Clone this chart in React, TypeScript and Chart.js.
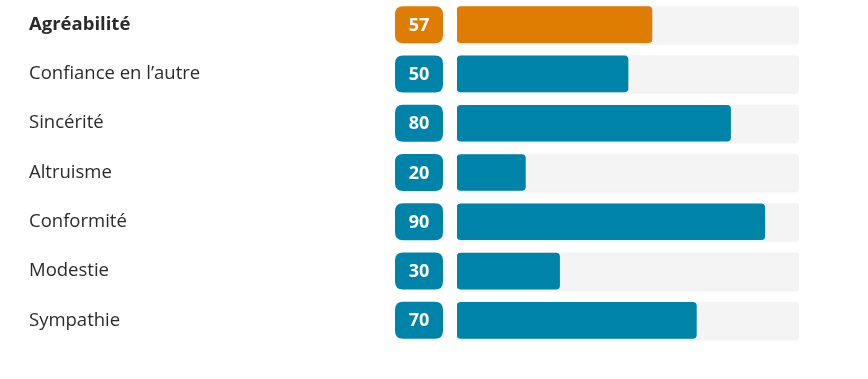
import React, { useEffect, useRef } from "react";
import { Chart, registerables } from "chart.js";

Chart.register(...registerables);

const categories = [
  "Agréabilité",
  "Confiance en l’autre",
  "Sincérité",
  "Altruisme",
  "Conformité",
  "Modestie",
  "Sympathie",
];
const scores = [57, 50, 80, 20, 90, 30, 70];
const trackMax = [100, 100, 100, 100, 100, 100, 100];
const ORANGE = "#de7c03";
const TEAL = "#0083a9";
const barColors = scores.map((_, i) => (i === 0 ? ORANGE : TEAL));

const FONT = "'Open Sans', 'Noto Sans', sans-serif";

function roundRect(ctx: CanvasRenderingContext2D, x: number, y: number, w: number, h: number, r: number) {
  ctx.beginPath();
  ctx.moveTo(x + r, y);
  ctx.lineTo(x + w - r, y);
  ctx.quadraticCurveTo(x + w, y, x + w, y + r);
  ctx.lineTo(x + w, y + h - r);
  ctx.quadraticCurveTo(x + w, y + h, x + w - r, y + h);
  ctx.lineTo(x + r, y + h);
  ctx.quadraticCurveTo(x, y + h, x, y + h - r);
  ctx.lineTo(x, y + r);
  ctx.quadraticCurveTo(x, y, x + r, y);
  ctx.closePath();
}

const badgePlugin = {
  id: "badges",
  afterDatasetsDraw(chart: any) {
    const ctx = chart.ctx as CanvasRenderingContext2D;
    const yScale = chart.scales.y;
    const left = chart.chartArea.left;
    ctx.save();
    scores.forEach((v, i) => {
      const cy = yScale.getPixelForValue(i);
      const w = 48;
      const h = 37;
      const x = left - 62;
      roundRect(ctx, x, cy - h / 2, w, h, 8);
      ctx.fillStyle = barColors[i];
      ctx.fill();
      ctx.fillStyle = "#ffffff";
      ctx.font = `bold 18px ${FONT}`;
      ctx.textAlign = "center";
      ctx.textBaseline = "middle";
      ctx.fillText(String(v), x + w / 2, cy + 1);
    });
    ctx.restore();
  },
};

const trackShadowPlugin = {
  id: "trackShadow",
  beforeDatasetDraw(chart: any, args: any) {
    if (args.index === 0) {
      const ctx = chart.ctx as CanvasRenderingContext2D;
      ctx.save();
      ctx.shadowColor = "rgba(0,0,0,0.08)";
      ctx.shadowBlur = 3;
      ctx.shadowOffsetY = 1;
    }
  },
  afterDatasetDraw(chart: any, args: any) {
    if (args.index === 0) chart.ctx.restore();
  },
};

export default function App() {
  const ref = useRef<HTMLCanvasElement | null>(null);
  useEffect(() => {
    if (!ref.current) return;
    const chart = new Chart(ref.current, {
      type: "bar",
      data: {
        labels: categories,
        datasets: [
          {
            label: "track",
            data: trackMax,
            backgroundColor: "#f4f4f4",
            borderRadius: 4,
            borderSkipped: false,
            barThickness: 36,
            grouped: false,
            order: 2,
          } as any,
          {
            label: "score",
            data: scores,
            backgroundColor: barColors,
            borderRadius: 4,
            borderSkipped: false,
            barThickness: 36,
            grouped: false,
            order: 1,
          } as any,
        ],
      },
      options: {
        indexAxis: "y",
        animation: false,
        responsive: true,
        maintainAspectRatio: false,
        layout: { padding: { left: 29, right: 69, top: 0, bottom: 34 } },
        plugins: {
          legend: { display: false },
          tooltip: { enabled: false },
        },
        scales: {
          x: { display: false, min: 0, max: 100 },
          y: {
            grid: { display: false, drawTicks: false },
            border: { display: false },
            afterFit(scale: any) {
              scale.width = 457 - 29;
              scale.paddingTop = 0;
              scale.paddingBottom = 0;
            },
            ticks: {
              crossAlign: "far",
              padding: 0,
              color: "#2b2b2b",
              font: (c: any) => ({
                family: FONT,
                size: 18.5,
                weight: c.index === 0 ? "bold" : "normal",
              }),
            },
          },
        },
      },
      plugins: [trackShadowPlugin, badgePlugin],
    });
    return () => chart.destroy();
  }, []);
  return (
    <div style={{ position: "absolute", left: 0, top: 0, width: 868, height: 379, background: "#fff" }}>
      <canvas ref={ref} />
    </div>
  );
}
